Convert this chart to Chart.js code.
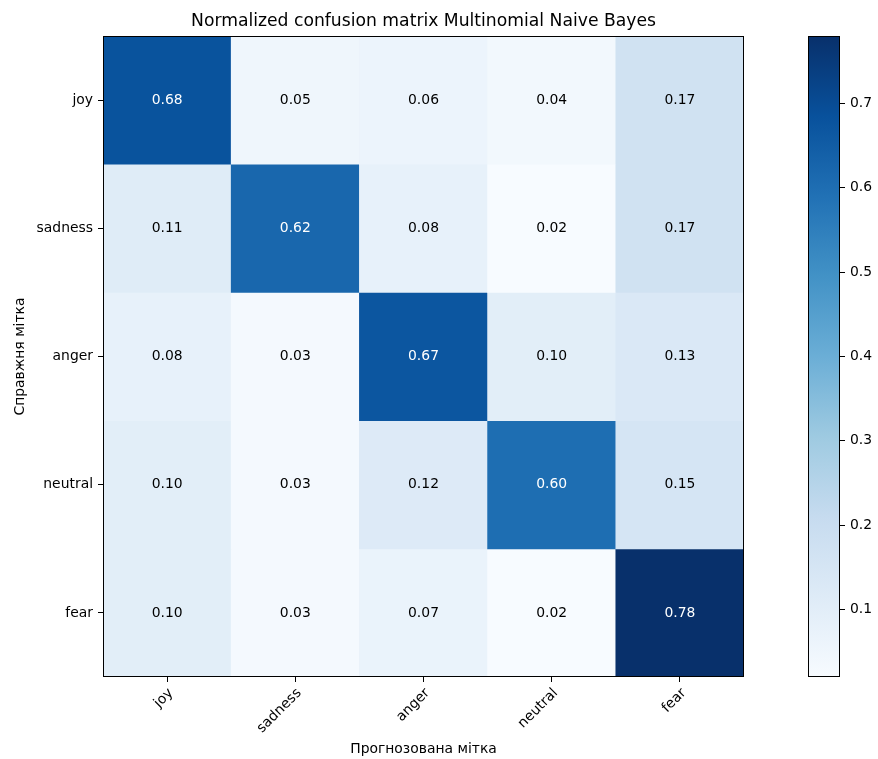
<!DOCTYPE html>
<html>
<head>
<meta charset="utf-8">
<title>Normalized confusion matrix Multinomial Naive Bayes</title>
<script src="https://cdn.jsdelivr.net/npm/chart.js@4/dist/chart.umd.min.js"></script>
<style>
    html, body { margin: 0; padding: 0; background: #ffffff; }
    #wrap { position: relative; width: 878px; height: 759px; }
    #matrixChart { position: absolute; left: 0; top: 0; }
    #colorbarChart { position: absolute; left: 800px; top: 0; }
</style>
</head>
<body>
<div id="wrap">
    <canvas id="matrixChart" width="878" height="759"></canvas>
    <canvas id="colorbarChart" width="78" height="759"></canvas>
</div>
<script>
// Класи (рядки - справжні, стовпці - прогнозовані)
const trueLabels = ['joy', 'sadness', 'anger', 'neutral', 'fear'];
const predLabels = ['joy', 'sadness', 'anger', 'neutral', 'fear'];

// Нормалізована матриця, по рядку на кожен справжній клас
const rowJoy     = [0.68, 0.05, 0.06, 0.04, 0.17];
const rowSadness = [0.11, 0.62, 0.08, 0.02, 0.17];
const rowAnger   = [0.08, 0.03, 0.67, 0.10, 0.13];
const rowNeutral = [0.10, 0.03, 0.12, 0.60, 0.15];
const rowFear    = [0.10, 0.03, 0.07, 0.02, 0.78];
const matrix = [rowJoy, rowSadness, rowAnger, rowNeutral, rowFear];

// Поділки шкали кольорів
const colorbarTicks = [0.1, 0.2, 0.3, 0.4, 0.5, 0.6, 0.7];

const FONT = 'DejaVu Sans';
const flat = matrix.flat();
const vmin = Math.min(...flat);
const vmax = Math.max(...flat);
const thresh = vmax / 2;

// matplotlib "Blues"
const BLUES = [
    [247, 251, 255], [222, 235, 247], [198, 219, 239], [158, 202, 225],
    [107, 174, 214], [66, 146, 198], [33, 113, 181], [8, 81, 156], [8, 48, 107]
];

function bluesAt(t) {
    t = Math.max(0, Math.min(1, t));
    const p = t * (BLUES.length - 1);
    const i = Math.min(Math.floor(p), BLUES.length - 2);
    const f = p - i;
    const c = BLUES[i].map((v, k) => Math.round(v + (BLUES[i + 1][k] - v) * f));
    return `rgb(${c[0]}, ${c[1]}, ${c[2]})`;
}

function cellColor(v) {
    return bluesAt((v - vmin) / (vmax - vmin));
}

// Рамка навколо області графіка
const framePlugin = {
    id: 'frame',
    afterDatasetsDraw(chart) {
        const a = chart.chartArea;
        const ctx = chart.ctx;
        ctx.save();
        ctx.strokeStyle = '#000';
        ctx.lineWidth = 1;
        ctx.strokeRect(Math.round(a.left) + 0.5, Math.round(a.top) + 0.5,
                       Math.round(a.right - a.left) - 1, Math.round(a.bottom - a.top) - 1);
        ctx.restore();
    }
};

// Підписи значень у клітинках
const cellTextPlugin = {
    id: 'cellText',
    afterDatasetsDraw(chart) {
        const ctx = chart.ctx;
        ctx.save();
        ctx.font = `13.9px "${FONT}"`;
        ctx.textAlign = 'center';
        ctx.textBaseline = 'middle';
        matrix.forEach((row, r) => {
            const meta = chart.getDatasetMeta(r);
            row.forEach((v, c) => {
                const pt = meta.data[c].getCenterPoint();
                ctx.fillStyle = v > thresh ? '#ffffff' : '#000000';
                ctx.fillText(v.toFixed(2), pt.x, pt.y);
            });
        });
        ctx.restore();
    }
};

function initMatrix() {
    const ctx = document.getElementById('matrixChart').getContext('2d');
    const datasets = matrix.map((row, r) => ({
        label: trueLabels[r],
        data: row.map(() => [r - 0.5, r + 0.5]),
        backgroundColor: row.map(cellColor),
        borderWidth: 0,
        barPercentage: 1,
        categoryPercentage: 1,
        grouped: false
    }));

    new Chart(ctx, {
        type: 'bar',
        data: { labels: predLabels, datasets },
        options: {
            responsive: false,
            animation: false,
            layout: { padding: { left: 0, right: 134, top: 0, bottom: 0 } },
            plugins: {
                legend: { display: false },
                tooltip: { enabled: false },
                title: {
                    display: true,
                    text: 'Normalized confusion matrix Multinomial Naive Bayes',
                    fullSize: false,
                    color: '#000',
                    font: { family: FONT, size: 17.2, weight: 'normal' },
                    padding: { top: 11, bottom: 4.4 }
                }
            },
            scales: {
                x: {
                    type: 'category',
                    offset: true,
                    grid: { display: true, offset: false, drawOnChartArea: false, drawTicks: true, tickLength: 5, color: '#000' },
                    border: { display: false },
                    ticks: {
                        color: '#000', font: { family: FONT, size: 13.9 },
                        minRotation: 45, maxRotation: 45, padding: 3, labelOffset: 4, autoSkip: false
                    },
                    title: {
                        display: true, text: 'Прогнозована мітка', color: '#000',
                        font: { family: FONT, size: 13.9 }, padding: { top: 0, bottom: 1 }
                    },
                    afterFit(scale) { scale.height = 82; }
                },
                y: {
                    type: 'linear',
                    min: -0.5,
                    max: trueLabels.length - 0.5,
                    reverse: true,
                    grid: { display: true, drawOnChartArea: false, drawTicks: true, tickLength: 5, color: '#000' },
                    border: { display: false },
                    afterBuildTicks(scale) {
                        scale.ticks = trueLabels.map((_, i) => ({ value: i }));
                    },
                    ticks: {
                        color: '#000', font: { family: FONT, size: 13.9 }, padding: 5,
                        callback: (v) => trueLabels[v]
                    },
                    title: {
                        display: true, text: 'Справжня мітка', color: '#000',
                        font: { family: FONT, size: 13.9 }, padding: { top: 12, bottom: 0 }
                    },
                    afterFit(scale) { scale.width = 103; }
                }
            }
        },
        plugins: [cellTextPlugin, framePlugin]
    });
}

function initColorbar() {
    const ctx = document.getElementById('colorbarChart').getContext('2d');
    new Chart(ctx, {
        type: 'bar',
        data: {
            labels: [''],
            datasets: [{
                data: [[vmin, vmax]],
                borderWidth: 0,
                barPercentage: 1,
                categoryPercentage: 1,
                backgroundColor(c) {
                    const chart = c.chart;
                    if (!chart.chartArea) return BLUES[0];
                    const y = chart.scales.y;
                    const g = chart.ctx.createLinearGradient(0, y.getPixelForValue(vmin), 0, y.getPixelForValue(vmax));
                    BLUES.forEach((col, i) => g.addColorStop(i / (BLUES.length - 1), `rgb(${col.join(',')})`));
                    return g;
                }
            }]
        },
        options: {
            responsive: false,
            animation: false,
            layout: { padding: { left: 8, right: 0, top: 36, bottom: 82 } },
            plugins: { legend: { display: false }, tooltip: { enabled: false } },
            scales: {
                x: { display: false },
                y: {
                    position: 'right',
                    min: vmin,
                    max: vmax,
                    grid: { display: true, drawOnChartArea: false, drawTicks: true, tickLength: 5, color: '#000' },
                    border: { display: false },
                    afterBuildTicks(scale) {
                        scale.ticks = colorbarTicks.map(v => ({ value: v }));
                    },
                    ticks: {
                        color: '#000', font: { family: FONT, size: 13.9 }, padding: 5,
                        callback: (v) => v.toFixed(1)
                    },
                    afterFit(scale) { scale.width = 38; }
                }
            }
        },
        plugins: [framePlugin]
    });
}

document.addEventListener('DOMContentLoaded', () => {
    initMatrix();
    initColorbar();
});
</script>
</body>
</html>
